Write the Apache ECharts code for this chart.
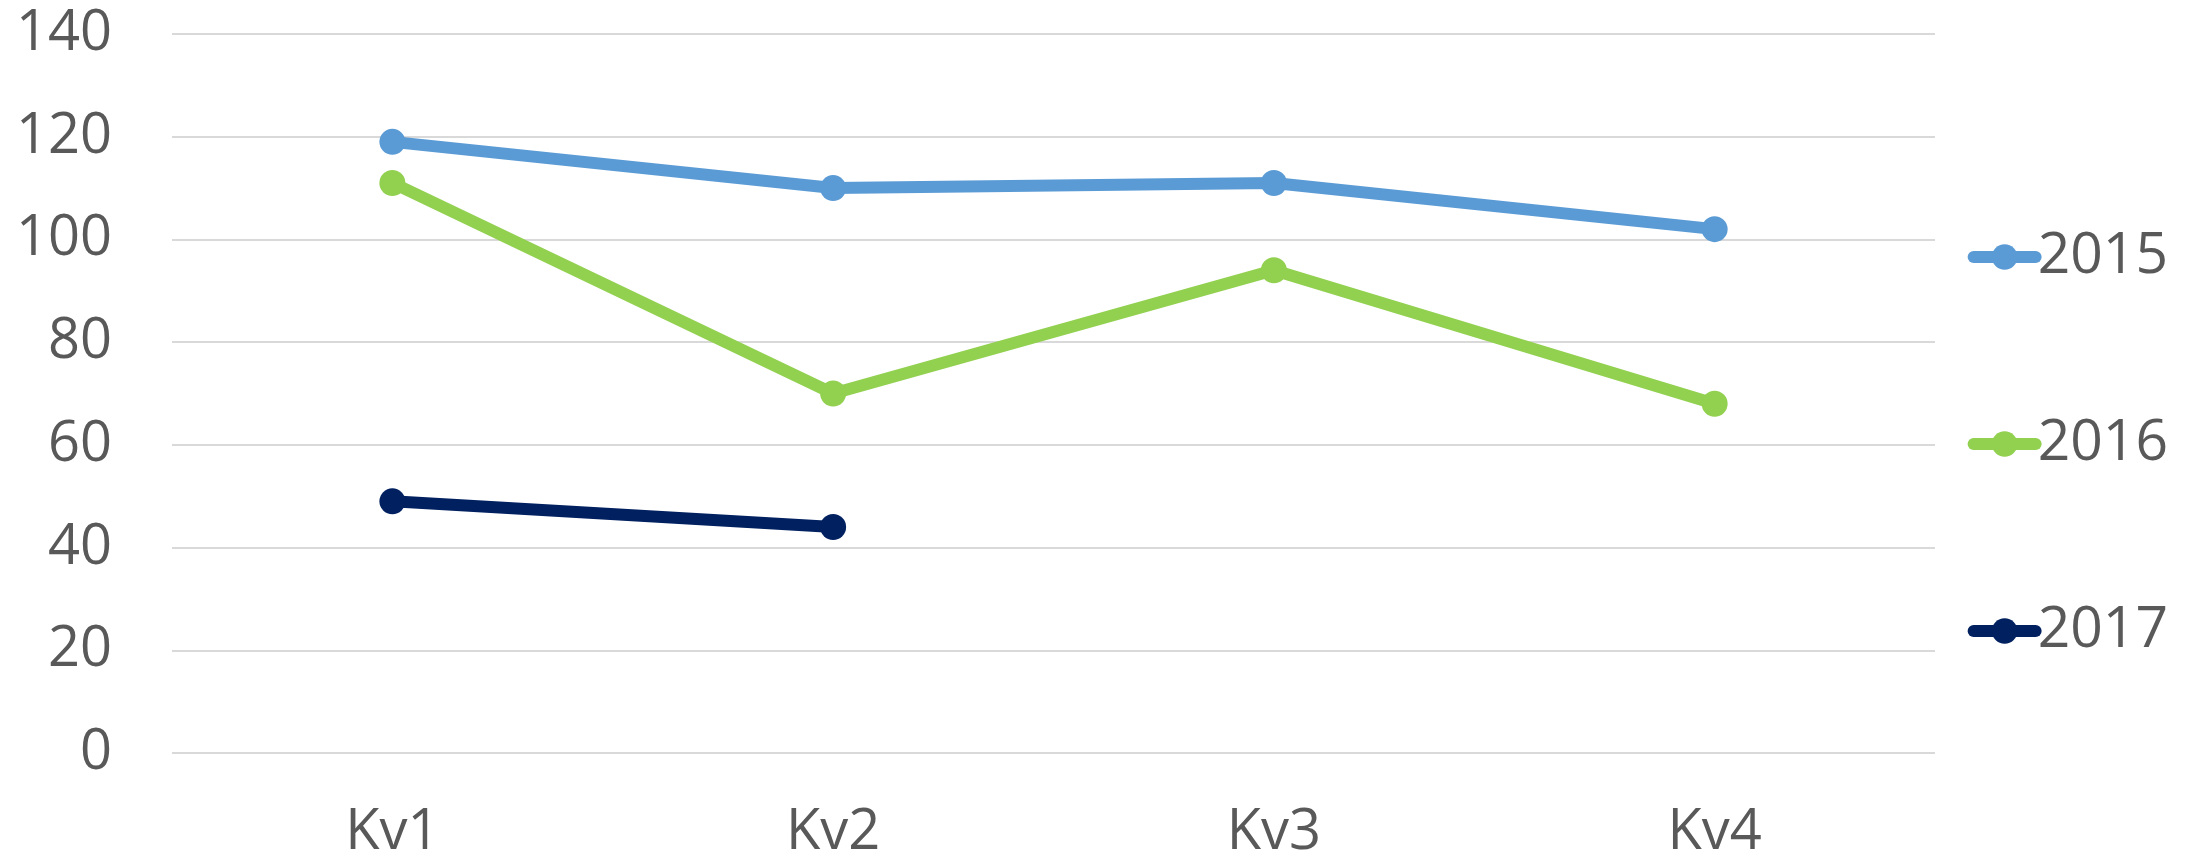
<!DOCTYPE html>
<html>
<head>
<meta charset="utf-8">
<script src="https://cdn.jsdelivr.net/npm/echarts@6/dist/echarts.min.js"></script>
<style>
html,body{margin:0;padding:0;background:#fff;}
#chart{width:2193px;height:861px;}
</style>
</head>
<body>
<div id="chart"></div>
<script>
const categories = ['Kv1', 'Kv2', 'Kv3', 'Kv4'];
const seriesNames = ['2015', '2016', '2017'];
const values2015 = [119, 110, 111, 102];
const values2016 = [111, 70, 94, 68];
const values2017 = [49, 44, null, null];
const colors = ['#5B9BD5', '#92D050', '#002060'];

const chart = echarts.init(document.getElementById('chart'));
const font = '"Open Sans", "Noto Sans", sans-serif';
const dataSets = [values2015, values2016, values2017];

chart.setOption({
  animation: false,
  backgroundColor: '#ffffff',
  color: colors,
  grid: { left: 172, right: 258, top: 34, bottom: 108, containLabel: false },
  legend: {
    orient: 'vertical',
    right: 20,
    top: 222,
    itemWidth: 62,
    itemHeight: 32,
    itemGap: 127,
    data: seriesNames,
    lineStyle: { width: 12, cap: 'round' },
    textStyle: { fontFamily: font, fontSize: 57, color: '#595959', lineHeight: 60, padding: [0, 0, 0, -3] }
  },
  xAxis: {
    type: 'category',
    data: categories,
    boundaryGap: true,
    axisLine: { show: false },
    axisTick: { show: false },
    axisLabel: { fontFamily: font, fontSize: 56, color: '#595959', margin: 52 }
  },
  yAxis: {
    type: 'value',
    min: 0,
    max: 140,
    interval: 20,
    axisLine: { show: false },
    axisTick: { show: false },
    splitLine: { lineStyle: { color: '#D9D9D9', width: 2 } },
    axisLabel: { fontFamily: font, fontSize: 56, color: '#595959', margin: 60 }
  },
  series: seriesNames.map((name, i) => ({
    name: name,
    type: 'line',
    data: dataSets[i],
    symbol: 'circle',
    symbolSize: 26,
    showAllSymbol: true,
    connectNulls: false,
    lineStyle: { width: 12, color: colors[i], cap: 'round' },
    itemStyle: { color: colors[i] }
  }))
});
</script>
</body>
</html>
